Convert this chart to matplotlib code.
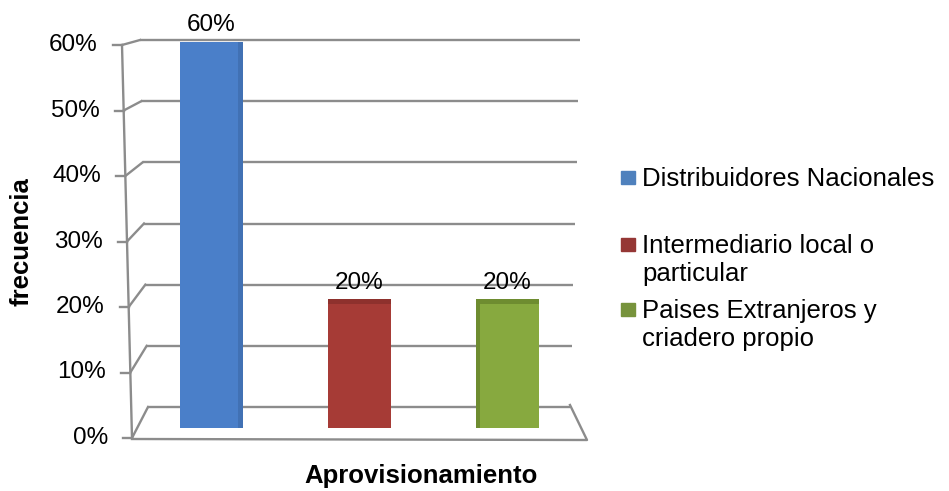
import matplotlib.pyplot as plt
from matplotlib.patches import Rectangle

plt.rcParams['font.family'] = ['Liberation Sans', 'DejaVu Sans']

# Datos
categorias = ["Distribuidores Nacionales",
              "Intermediario local o\nparticular",
              "Paises Extranjeros y\ncriadero propio"]
valores = [60, 20, 20]
ticks = [0, 10, 20, 30, 40, 50, 60]
colores = ["#4A7FC9", "#A63B36", "#87A93F"]
colores_borde = ["#4171B4", "#8E312D", "#6E8C30"]
colores_leyenda = ["#4F81BD", "#953735", "#77933C"]

W, H = 949, 491
fig = plt.figure(figsize=(W / 100, H / 100), dpi=100)

# Marco en perspectiva (pared del fondo, piso y eje frontal), en pixeles
marco = fig.add_axes([0, 0, 1, 1])
marco.set_xlim(0, W)
marco.set_ylim(H, 0)
marco.axis("off")

gris = "#8C8C8C"
vmax = ticks[-1]


def frente_y(v):
    return 438 - v * (438 - 45) / vmax


def frente_x(v):
    return 132 - v * 10 / vmax


def fondo_y(v):
    return 407 - v * (407 - 40) / vmax


def fondo_izq(v):
    return 148 - v * 8 / vmax


def fondo_der(v):
    return 570 + v * 10 / vmax


for v in ticks:
    # linea de la pared del fondo
    marco.plot([fondo_izq(v), fondo_der(v)], [fondo_y(v), fondo_y(v)],
               color=gris, lw=1.7, solid_capstyle="butt")
    # diagonal hacia el eje frontal
    marco.plot([frente_x(v), fondo_izq(v)], [frente_y(v), fondo_y(v)],
               color=gris, lw=1.7)
    # marca y etiqueta del eje
    marco.plot([frente_x(v) - 9, frente_x(v)], [frente_y(v), frente_y(v)],
               color=gris, lw=1.7)
    marco.text(frente_x(v) - 24, frente_y(v), f"{v}%", ha="right",
               va="center", fontsize=17.5, color="black")

# eje frontal
marco.plot([frente_x(0), frente_x(vmax)], [frente_y(0), frente_y(vmax)],
           color=gris, lw=1.7)
# piso
marco.plot([frente_x(0), 587, fondo_der(0)], [frente_y(0) + 1, 440, fondo_y(0) - 2],
           color=gris, lw=1.7)

# Barras
ax = fig.add_axes([130 / W, 1 - 428 / H, 459 / W, 386 / H])
ax.patch.set_alpha(0)
ax.set_xlim(-0.55, 2.55)
ax.set_ylim(0, vmax)
ax.axis("off")

x = list(range(len(valores)))
ancho = 0.42
ax.bar(x, valores, width=ancho, color=colores, zorder=2)
# sombreado lateral y superior
ax.bar([x[0] + ancho / 2 - 0.015], [valores[0]], width=0.03,
       color=colores_borde[0], zorder=3)
ax.bar([x[2] - ancho / 2 + 0.012], [valores[2]], width=0.024,
       color=colores_borde[2], zorder=3)
for i in (1, 2):
    ax.bar([x[i]], [0.8], bottom=[valores[i] - 0.8], width=ancho,
           color=colores_borde[i], zorder=3)

for xi, v in zip(x, valores):
    ax.annotate(f"{v}%", (xi, v), xytext=(0, 4), textcoords="offset points",
                ha="center", va="bottom", fontsize=17.5, color="black")

# Titulos de ejes
fig.text(421 / W, 1 - 476 / H, "Aprovisionamiento", ha="center",
         va="center", fontsize=18.5, fontweight="bold")
fig.text(22 / W, 1 - 242 / H, "frecuencia", ha="center", va="center",
         rotation=90, fontsize=18.5, fontweight="bold")

# Leyenda
tops = [168, 235, 300]
for etiqueta, color, top in zip(categorias, colores_leyenda, tops):
    marco.add_patch(Rectangle((621, top + 3), 14, 13, color=color))
    marco.text(642, top - 1, etiqueta, ha="left", va="top", fontsize=18.5,
               linespacing=1.22)

fig.savefig("out.png", dpi=100)
